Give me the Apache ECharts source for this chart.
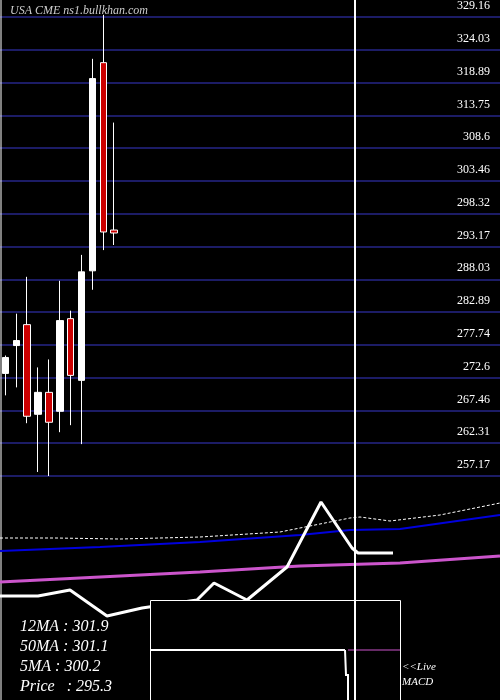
<!DOCTYPE html><html><head><meta charset="utf-8">
<script src="https://cdn.jsdelivr.net/npm/echarts@6/dist/echarts.min.js"></script>
<style>html,body{margin:0;background:#000}#c{width:500px;height:700px}</style></head><body><div id="c"></div>
<script>
var tickLabels=['257.17','262.31','267.46','272.6','277.74','282.89','288.03','293.17','298.32','303.46','308.6','313.75','318.89','324.03','329.16'];
var opens =[273.26,277.63,280.91,266.85,270.29,267.32,281.85,272.17,289.35,322.0,295.75];
var closes=[275.76,278.41,266.54,270.29,265.6,281.54,272.95,289.19,319.5,295.44,295.28];
var lows  =[269.82,271.07,265.45,257.8,257.17,264.04,265.14,262.17,286.38,292.6,293.4];
var highs =[276.07,282.63,288.41,274.2,275.45,287.79,283.1,291.85,322.6,329.5,312.6];
// lower panel indicator lines: [x position, height]
var ma12=[[0,162],[55,162],[120,161],[200,163],[280,168],[320,176],[350,182],[360,183],[390,179],[440,185],[500,197]];
var ma50=[[0,149],[100,153],[200,158],[300,165],[350,170],[400,171],[500,185]];
var ma5 =[[0,118],[100,123],[200,128],[300,134],[400,137],[500,144]];
var macd=[[0,104],[38,104],[70,110],[107,84],[142,92],[197,100],[214,117],[247,100],[287,133],[321,198],[352,152],[358,147],[393,147]];
var legend=['12MA : 301.9','50MA : 301.1','5MA : 300.2','Price   : 295.3'];
var base=257.17, step=(329.16-257.17)/14;
function t(p){return (p-base)/step;}
var cats=[];for(var i=0;i<46;i++)cats.push(i);
var cdata=opens.map(function(o,i){return [t(o),t(closes[i]),t(lows[i]),t(highs[i])];});
var ch=echarts.init(document.getElementById('c'));
var serif='Liberation Serif';
ch.setOption({backgroundColor:'#000',animation:false,
grid:[{left:-2.5,right:-3.5,top:15,bottom:224},{left:0,right:0,top:490,bottom:0}],
xAxis:[{type:'category',data:cats,gridIndex:0,show:false},{type:'value',min:0,max:500,gridIndex:1,show:false}],
yAxis:[{type:'value',min:0,max:14,interval:1,gridIndex:0,position:'right',axisLine:{show:false},axisTick:{show:false},
 splitLine:{lineStyle:{color:'#1c1c66',width:2}},
 axisLabel:{inside:true,margin:10,verticalAlign:'bottom',padding:[0,0,5,0],color:'#fff',fontFamily:serif,fontSize:12,formatter:function(v){return tickLabels[Math.round(v)];}}},
 {type:'value',min:0,max:210,gridIndex:1,show:false}],
series:[
{type:'candlestick',xAxisIndex:0,yAxisIndex:0,data:cdata,barWidth:7,itemStyle:{color:'#fff',color0:'#cc0000',borderColor:'#fff',borderColor0:'#fff',borderWidth:1}},
{type:'line',xAxisIndex:1,yAxisIndex:1,data:ma12,showSymbol:false,lineStyle:{color:'#fff',width:1,type:[3,2]}},
{type:'line',xAxisIndex:1,yAxisIndex:1,data:ma50,showSymbol:false,lineStyle:{color:'#0000dd',width:2}},
{type:'line',xAxisIndex:1,yAxisIndex:1,data:ma5,showSymbol:false,lineStyle:{color:'#cc55cc',width:3}},
{type:'line',xAxisIndex:1,yAxisIndex:1,data:macd,showSymbol:false,lineStyle:{color:'#fff',width:3}}
],
graphic:[
{type:'line',shape:{x1:1,y1:0,x2:1,y2:700},style:{stroke:'#fff',lineWidth:1},z:1},
{type:'rect',shape:{x:150.5,y:600.5,width:250,height:100},style:{fill:'#000',stroke:'#fff',lineWidth:1},z:50},
{type:'line',shape:{x1:151,y1:650,x2:345,y2:650},style:{stroke:'#fff',lineWidth:2},z:51},
{type:'line',shape:{x1:348,y1:650,x2:400,y2:650},style:{stroke:'#cc55cc',lineWidth:1},z:51},
{type:'polyline',shape:{points:[[345,650],[346,675],[348,675],[348,700]]},style:{stroke:'#fff',lineWidth:2,fill:null},z:51},
{type:'line',shape:{x1:355,y1:0,x2:355,y2:700},style:{stroke:'#fff',lineWidth:2},z:60},
{type:'text',left:10,top:5,style:{text:'USA CME ns1.bullkhan.com',fill:'#ccc',font:'italic 12px "Liberation Serif"'},z:60},
{type:'text',left:20,top:617,style:{text:legend.join('\n'),fill:'#fff',font:'italic 16px "Liberation Serif"',lineHeight:20},z:60},
{type:'text',left:402,top:660,style:{text:'<<Live\nMACD',fill:'#fff',font:'italic 11px "Liberation Serif"',lineHeight:15},z:60}
]});
</script></body></html>
